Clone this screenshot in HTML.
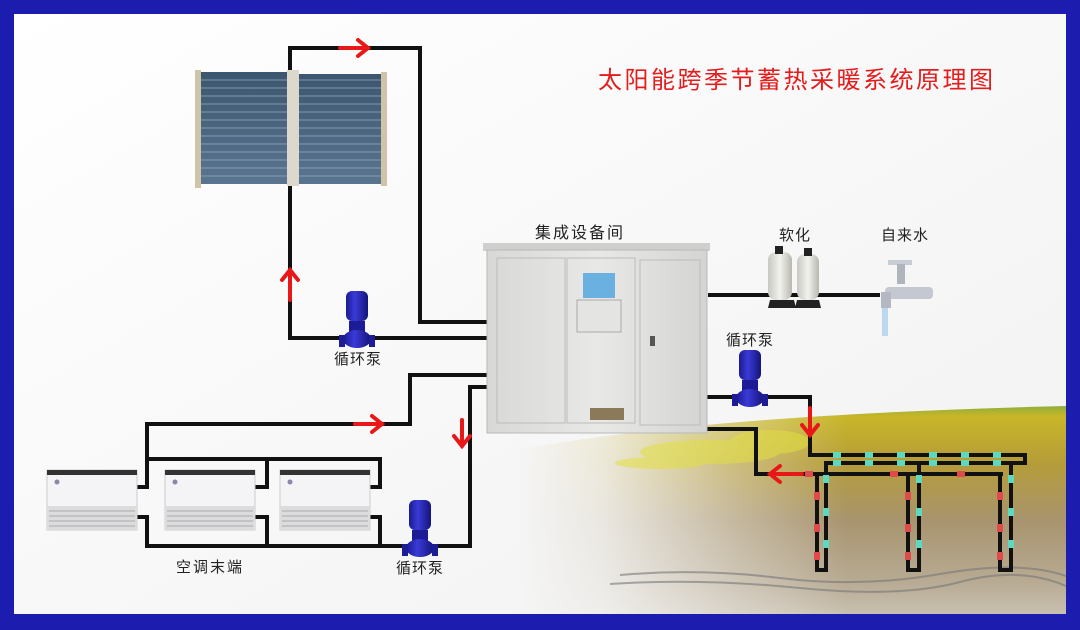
<!DOCTYPE html>
<html><head><meta charset="utf-8"><style>
html,body{margin:0;padding:0;background:#1c1cae;}
svg{display:block}
text{font-family:"Liberation Sans","Noto Sans CJK SC",sans-serif;}
</style></head><body>
<svg width="1080" height="630" viewBox="0 0 1080 630" xmlns="http://www.w3.org/2000/svg">
<defs>
<linearGradient id="bg" x1="0" y1="0" x2="1" y2="1"><stop offset="0" stop-color="#ffffff"/><stop offset="1" stop-color="#f1f1f1"/></linearGradient>
<linearGradient id="soil" x1="0" y1="0" x2="0" y2="1">
<stop offset="0" stop-color="#8fae3a"/><stop offset="0.05" stop-color="#c8b628"/><stop offset="0.28" stop-color="#b59c3a"/><stop offset="0.55" stop-color="#a8946e"/><stop offset="0.85" stop-color="#b8ab94"/><stop offset="1" stop-color="#c9c0b0"/></linearGradient>
<linearGradient id="fade" x1="0" y1="0" x2="1" y2="0"><stop offset="0" stop-color="#f5f5f5" stop-opacity="1"/><stop offset="0.15" stop-color="#f6f6f6" stop-opacity="0.85"/><stop offset="0.4" stop-color="#f8f8f8" stop-opacity="0.35"/><stop offset="0.6" stop-color="#fff" stop-opacity="0"/></linearGradient>
<linearGradient id="cab" x1="0" y1="0" x2="1" y2="0"><stop offset="0" stop-color="#d8d8d6"/><stop offset="0.5" stop-color="#e8e8e6"/><stop offset="1" stop-color="#d4d4d2"/></linearGradient>
<linearGradient id="tube" x1="0" y1="0" x2="0" y2="1"><stop offset="0" stop-color="#3d5670"/><stop offset="1" stop-color="#5a7590"/></linearGradient>
<linearGradient id="pump" x1="0" y1="0" x2="1" y2="0"><stop offset="0" stop-color="#1a1a90"/><stop offset="0.4" stop-color="#3a3ad8"/><stop offset="1" stop-color="#14147a"/></linearGradient>
<linearGradient id="tank" x1="0" y1="0" x2="1" y2="0"><stop offset="0" stop-color="#c8c8c0"/><stop offset="0.5" stop-color="#f2f2ee"/><stop offset="1" stop-color="#b8b8b0"/></linearGradient>
<g id="pumpg">
<rect x="-11" y="0" width="22" height="30" rx="6" fill="url(#pump)"/>
<rect x="-8" y="30" width="16" height="12" fill="#1c1c96"/>
<ellipse cx="0" cy="48" rx="14" ry="9" fill="url(#pump)"/>
<rect x="-18" y="44" width="6" height="12" fill="#1c1c96"/>
<rect x="12" y="44" width="6" height="12" fill="#1c1c96"/>
</g>
<g id="ac">
<rect x="0" y="0" width="90" height="60" fill="#f4f4f6" stroke="#ccc"/>
<rect x="0" y="0" width="90" height="5" fill="#333"/>
<rect x="0" y="36" width="90" height="24" fill="#dcdcde"/>
<g stroke="#aaa" stroke-width="1"><line x1="2" y1="41" x2="88" y2="41"/><line x1="2" y1="46" x2="88" y2="46"/><line x1="2" y1="51" x2="88" y2="51"/><line x1="2" y1="56" x2="88" y2="56"/></g>
<circle cx="10" cy="12" r="2.5" fill="#88a"/>
</g>
</defs>
<rect x="14" y="14" width="1052" height="600" fill="url(#bg)"/>
<!-- soil -->
<path d="M520 450 Q700 415 1066 406 L1066 614 L520 614 Z" fill="url(#soil)"/>
<path d="M519 450 Q700 415 1066 406 L1066 614 L519 614 Z" fill="url(#fade)"/>
<g fill="#e2e040" opacity="0.55"><ellipse cx="710" cy="452" rx="70" ry="12"/><ellipse cx="770" cy="442" rx="40" ry="12"/><ellipse cx="660" cy="463" rx="45" ry="6"/></g>
<g stroke="#777" stroke-width="2" fill="none" opacity="0.6"><path d="M620 575 Q700 568 780 578 T940 574 T1066 576"/><path d="M610 584 Q700 578 800 588 T960 582 T1066 586"/></g>
<!-- title -->
<text x="598" y="88" font-size="24" fill="#e41c1c" letter-spacing="2.5">太阳能跨季节蓄热采暖系统原理图</text>
<!-- pipes -->
<g stroke="#111" stroke-width="4" fill="none">
<polyline points="290,185 290,48 420,48 420,322 488,322"/>
<polyline points="290,185 290,338 488,338"/>
<polyline points="488,375 410,375 410,424 147,424 147,487 136,487"/>
<polyline points="147,459 380,459 380,487 370,487"/>
<polyline points="267,459 267,487 255,487"/>
<polyline points="136,517 147,517 147,546 470,546 470,387 488,387"/>
<polyline points="255,517 267,517 267,546"/>
<polyline points="370,517 380,517 380,546"/>
<line x1="708" y1="295" x2="880" y2="295"/>
<polyline points="706,397 810,397 810,455 1025,455 1025,463 826,463 826,570 817,570 817,473"/>
<polyline points="706,429 756,429 756,474 1003,474"/>
<polyline points="919,463 919,570 908,570 908,474"/>
<polyline points="1011,463 1011,570 1000,570 1000,474"/>
</g>
<!-- pipe markers -->
<g fill="#5fd8c0"><rect x="833" y="452" width="8" height="6"/><rect x="865" y="452" width="8" height="6"/><rect x="897" y="452" width="8" height="6"/><rect x="929" y="452" width="8" height="6"/><rect x="961" y="452" width="8" height="6"/><rect x="993" y="452" width="8" height="6"/>
<rect x="833" y="460" width="8" height="6"/><rect x="865" y="460" width="8" height="6"/><rect x="897" y="460" width="8" height="6"/><rect x="929" y="460" width="8" height="6"/><rect x="961" y="460" width="8" height="6"/><rect x="993" y="460" width="8" height="6"/>
<rect x="823" y="475" width="6" height="8"/><rect x="823" y="508" width="6" height="8"/><rect x="823" y="540" width="6" height="8"/>
<rect x="916" y="475" width="6" height="8"/><rect x="916" y="508" width="6" height="8"/><rect x="916" y="540" width="6" height="8"/>
<rect x="1008" y="475" width="6" height="8"/><rect x="1008" y="508" width="6" height="8"/><rect x="1008" y="540" width="6" height="8"/></g>
<g fill="#e04a4a"><rect x="814" y="492" width="6" height="8"/><rect x="814" y="524" width="6" height="8"/><rect x="814" y="552" width="6" height="8"/>
<rect x="905" y="492" width="6" height="8"/><rect x="905" y="524" width="6" height="8"/><rect x="905" y="552" width="6" height="8"/>
<rect x="997" y="492" width="6" height="8"/><rect x="997" y="524" width="6" height="8"/><rect x="997" y="552" width="6" height="8"/>
<rect x="805" y="471" width="8" height="6"/><rect x="890" y="471" width="8" height="6"/><rect x="957" y="471" width="8" height="6"/></g>
<!-- red arrows -->
<g stroke="#e81818" stroke-width="4" fill="none" stroke-linecap="round">
<line x1="340" y1="48" x2="368" y2="48"/><polyline points="358,40 368,48 358,56"/>
<line x1="290" y1="300" x2="290" y2="270"/><polyline points="282,280 290,270 298,280"/>
<line x1="355" y1="424" x2="382" y2="424"/><polyline points="372,416 382,424 372,432"/>
<line x1="462" y1="420" x2="462" y2="446"/><polyline points="454,436 462,446 470,436"/>
<line x1="810" y1="408" x2="810" y2="435"/><polyline points="802,425 810,435 818,425"/>
<line x1="802" y1="474" x2="770" y2="474"/><polyline points="780,466 770,474 780,482"/>
</g>
<!-- solar collector -->
<g>
<rect x="197" y="72" width="92" height="112" fill="url(#tube)"/>
<rect x="299" y="74" width="86" height="110" fill="url(#tube)"/>
<g stroke="#9ab0c4" stroke-width="1" opacity="0.7">
<line x1="200" y1="80" x2="385" y2="80"/><line x1="200" y1="88" x2="385" y2="88"/><line x1="200" y1="96" x2="385" y2="96"/><line x1="200" y1="104" x2="385" y2="104"/><line x1="200" y1="112" x2="385" y2="112"/><line x1="200" y1="120" x2="385" y2="120"/><line x1="200" y1="128" x2="385" y2="128"/><line x1="200" y1="136" x2="385" y2="136"/><line x1="200" y1="144" x2="385" y2="144"/><line x1="200" y1="152" x2="385" y2="152"/><line x1="200" y1="160" x2="385" y2="160"/><line x1="200" y1="168" x2="385" y2="168"/><line x1="200" y1="176" x2="385" y2="176"/></g>
<rect x="195" y="70" width="6" height="118" fill="#cfc3a8"/>
<rect x="381" y="72" width="6" height="114" fill="#cfc3a8"/>
<rect x="287" y="70" width="12" height="116" fill="#ddd8cc"/>
</g>
<!-- cabinet -->
<text x="580" y="238" font-size="16" fill="#222" text-anchor="middle" letter-spacing="2">集成设备间</text>
<rect x="483" y="243" width="227" height="8" fill="#cfcfcd"/>
<rect x="487" y="250" width="220" height="183" fill="url(#cab)" stroke="#b8b8b6"/>
<rect x="497" y="258" width="68" height="165" fill="none" stroke="#bcbcba"/>
<rect x="567" y="258" width="68" height="165" fill="none" stroke="#bcbcba"/>
<rect x="640" y="260" width="60" height="165" fill="none" stroke="#bcbcba"/>
<rect x="583" y="273" width="32" height="25" fill="#6ab0e0"/>
<rect x="577" y="300" width="44" height="32" fill="#e4e4e2" stroke="#aaa"/>
<rect x="590" y="408" width="34" height="12" fill="#8a7a5a"/>
<rect x="650" y="336" width="5" height="10" fill="#555"/>
<!-- AC units -->
<use href="#ac" x="47" y="470"/><use href="#ac" x="165" y="470"/><use href="#ac" x="280" y="470"/>
<!-- pumps -->
<use href="#pumpg" x="357" y="291"/>
<use href="#pumpg" x="420" y="500"/>
<use href="#pumpg" x="750" y="350"/>
<text x="358" y="364" font-size="15" fill="#222" text-anchor="middle" letter-spacing="1">循环泵</text>
<text x="420" y="573" font-size="15" fill="#222" text-anchor="middle" letter-spacing="1">循环泵</text>
<text x="750" y="345" font-size="15" fill="#222" text-anchor="middle" letter-spacing="1">循环泵</text>
<text x="210" y="572" font-size="15" fill="#222" text-anchor="middle" letter-spacing="2">空调末端</text>
<!-- softener -->
<rect x="768" y="252" width="24" height="48" rx="8" fill="url(#tank)"/>
<rect x="797" y="254" width="22" height="46" rx="8" fill="url(#tank)"/>
<rect x="775" y="246" width="8" height="8" fill="#222"/><rect x="804" y="248" width="8" height="8" fill="#222"/>
<path d="M770 300 h24 l2 8 h-28z M797 300 h22 l2 8 h-26z" fill="#222"/>
<text x="795" y="240" font-size="15" fill="#222" text-anchor="middle" letter-spacing="1">软化</text>
<!-- tap -->
<rect x="888" y="260" width="24" height="5" fill="#c8ccd4"/>
<rect x="897" y="264" width="8" height="20" fill="#b0b4bc"/>
<rect x="885" y="287" width="48" height="12" rx="4" fill="#c4c8d0"/>
<rect x="881" y="292" width="10" height="16" fill="#b4b8c0"/>
<rect x="882" y="308" width="6" height="28" fill="#bcd8f0"/>
<text x="905" y="240" font-size="15" fill="#222" text-anchor="middle" letter-spacing="1">自来水</text>
</svg>
</body></html>
